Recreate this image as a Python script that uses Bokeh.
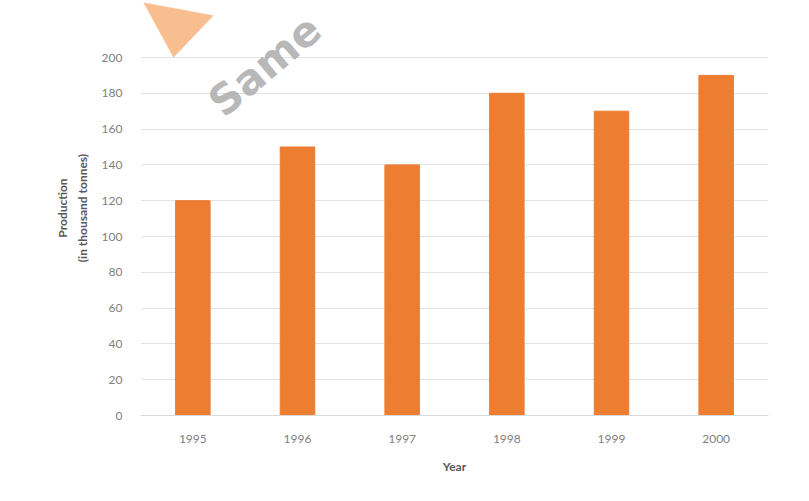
from bokeh.plotting import figure
from bokeh.models import Label, PolyAnnotation, FixedTicker, Range1d, LinearAxis
from bokeh.embed import file_html
from bokeh.resources import INLINE

years = ["1995", "1996", "1997", "1998", "1999", "2000"]
production = [120, 150, 140, 180, 170, 190]
y_ticks = [0, 20, 40, 60, 80, 100, 120, 140, 160, 180, 200]

# frame reaches the top of the canvas so the watermark is not clipped;
# gridlines/ticks still stop at 200
p = figure(x_range=years, y_range=Range1d(0, 200 * 415 / 358), width=809, height=501,
           output_backend="svg", toolbar_location=None,
           min_border_left=140, min_border_right=41, min_border_top=0, min_border_bottom=86)
p.outline_line_color = None
p.background_fill_color = "white"
p.border_fill_color = "white"

p.vbar(x=years, top=production, width=0.33, color="#ED7D31")

p.xgrid.grid_line_color = None
p.ygrid.grid_line_color = "#E3E3E3"
p.ygrid.grid_line_width = 1
p.yaxis.ticker = FixedTicker(ticks=y_ticks)

# second left axis only carries the first line of the y title
title_axis = LinearAxis(ticker=FixedTicker(ticks=[]), axis_label="Production")
p.add_layout(title_axis, "left")

for ax in (p.xaxis[0], p.yaxis[0], title_axis):
    ax.major_tick_line_color = None
    ax.minor_tick_line_color = None
    ax.major_label_text_font = "Lato"
    ax.major_label_text_font_size = "12px"
    ax.major_label_text_color = "#7F7F7F"
    ax.axis_label_text_font = "Lato"
    ax.axis_label_text_font_size = "12px"
    ax.axis_label_text_font_style = "bold"
    ax.axis_label_text_color = "#595959"

title_axis.axis_line_color = None
title_axis.axis_label_standoff = 2
title_axis.major_label_standoff = 0

p.yaxis[0].axis_line_color = None
p.xaxis.axis_line_color = "#D9D9D9"
p.yaxis[0].major_label_standoff = 12
p.xaxis.major_label_standoff = 13
p.xaxis.axis_label = "Year"
p.xaxis.axis_label_standoff = 13
p.yaxis[0].axis_label = "(in thousand tonnes)"
p.yaxis[0].axis_label_standoff = 9

# watermark shapes (screen units measured from the plot frame)
p.add_layout(PolyAnnotation(xs=[3, 73, 33], ys=[413, 400, 358],
                            xs_units="screen", ys_units="screen",
                            fill_color="#F9BE90", fill_alpha=1,
                            line_color="#FBD5B8", line_width=1))
p.add_layout(Label(x=90, y=289, x_units="screen", y_units="screen", text="Same",
                   angle=40, angle_units="deg", text_font="DejaVu Sans", text_font_style="bold",
                   text_font_size="42px", text_color="#ABABAB", text_alpha=0.85))

open("out.html", "w").write(file_html(p, INLINE))
